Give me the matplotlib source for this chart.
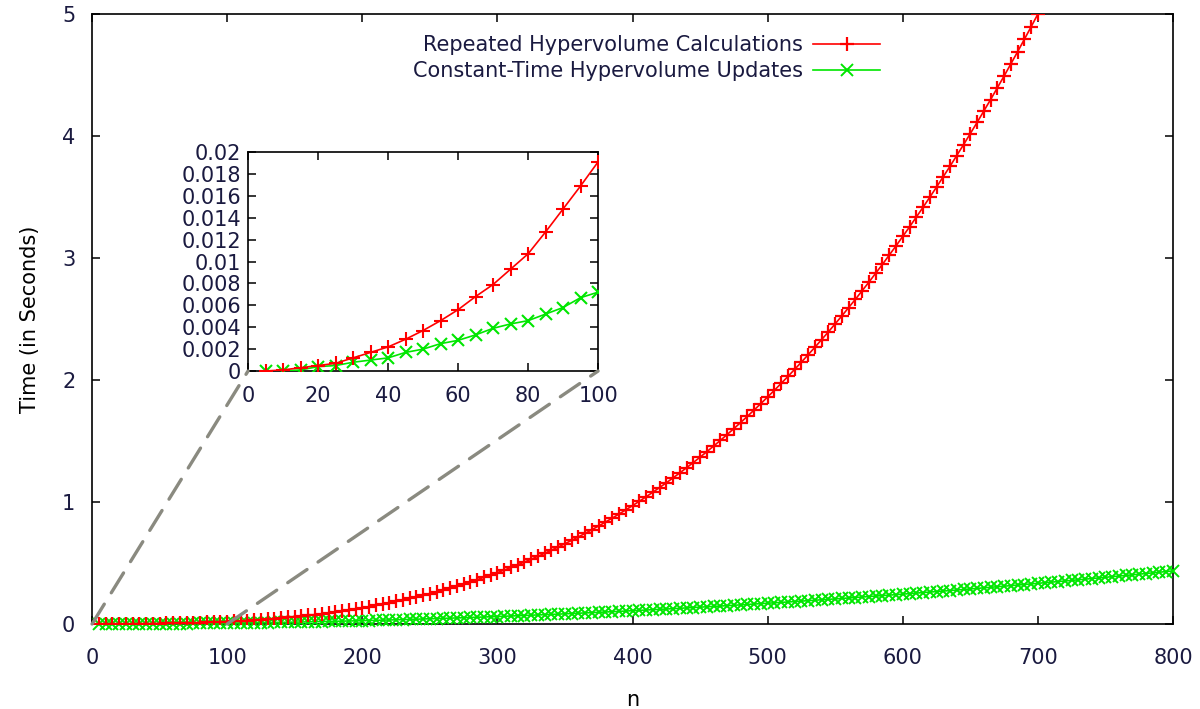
import matplotlib
matplotlib.use("Agg")
import matplotlib.pyplot as plt
from matplotlib.patches import ConnectionPatch
from matplotlib.ticker import MultipleLocator, FuncFormatter

# problem size n (step 5) and timings in seconds
n_red = list(range(5, 705, 5))
n_green = list(range(5, 805, 5))

red_times = [
    0.0000, 0.0001, 0.0003, 0.0005, 0.0007, 0.0012, 0.0017, 0.0022, 0.0029, 0.0037,
    0.0046, 0.0056, 0.0068, 0.0079, 0.0093, 0.0107, 0.0127, 0.0148, 0.0169, 0.0191,
    0.0219, 0.0249, 0.0281, 0.0316, 0.0354, 0.0394, 0.0438, 0.0485, 0.0534, 0.0587,
    0.0644, 0.0704, 0.0767, 0.0834, 0.0905, 0.0980, 0.1059, 0.1142, 0.1229, 0.1320,
    0.1416, 0.1516, 0.1621, 0.1731, 0.1846, 0.1965, 0.2090, 0.2219, 0.2354, 0.2494,
    0.2640, 0.2791, 0.2948, 0.3111, 0.3279, 0.3454, 0.3634, 0.3821, 0.4014, 0.4213,
    0.4419, 0.4632, 0.4851, 0.5077, 0.5309, 0.5549, 0.5796, 0.6050, 0.6312, 0.6580,
    0.6857, 0.7141, 0.7432, 0.7732, 0.8039, 0.8355, 0.8679, 0.9010, 0.9351, 0.9699,
    1.0057, 1.0422, 1.0797, 1.1181, 1.1573, 1.1975, 1.2385, 1.2805, 1.3235, 1.3674,
    1.4122, 1.4580, 1.5048, 1.5526, 1.6014, 1.6512, 1.7020, 1.7539, 1.8068, 1.8607,
    1.9157, 1.9718, 2.0289, 2.0872, 2.1466, 2.2070, 2.2686, 2.3314, 2.3952, 2.4603,
    2.5265, 2.5939, 2.6624, 2.7322, 2.8031, 2.8753, 2.9487, 3.0234, 3.0993, 3.1765,
    3.2549, 3.3346, 3.4156, 3.4979, 3.5815, 3.6664, 3.7527, 3.8403, 3.9293, 4.0196,
    4.1113, 4.2044, 4.2988, 4.3947, 4.4920, 4.5907, 4.6909, 4.7925, 4.8955, 5.0000,
]

green_times = [
    0.0000, 0.0000, 0.0001, 0.0004, 0.0005, 0.0008, 0.0010, 0.0012, 0.0017, 0.0020,
    0.0025, 0.0028, 0.0033, 0.0039, 0.0043, 0.0046, 0.0052, 0.0058, 0.0067, 0.0072,
    0.0075, 0.0082, 0.0090, 0.0098, 0.0106, 0.0115, 0.0124, 0.0133, 0.0143, 0.0153,
    0.0163, 0.0174, 0.0185, 0.0197, 0.0208, 0.0220, 0.0233, 0.0245, 0.0259, 0.0272,
    0.0286, 0.0300, 0.0314, 0.0329, 0.0344, 0.0360, 0.0376, 0.0392, 0.0408, 0.0425,
    0.0442, 0.0460, 0.0478, 0.0496, 0.0514, 0.0533, 0.0552, 0.0572, 0.0592, 0.0612,
    0.0633, 0.0653, 0.0675, 0.0696, 0.0718, 0.0741, 0.0763, 0.0786, 0.0809, 0.0833,
    0.0857, 0.0881, 0.0906, 0.0931, 0.0956, 0.0982, 0.1008, 0.1034, 0.1061, 0.1088,
    0.1115, 0.1143, 0.1171, 0.1200, 0.1228, 0.1257, 0.1287, 0.1316, 0.1347, 0.1377,
    0.1408, 0.1439, 0.1470, 0.1502, 0.1534, 0.1567, 0.1600, 0.1633, 0.1666, 0.1700,
    0.1734, 0.1769, 0.1804, 0.1839, 0.1874, 0.1910, 0.1946, 0.1983, 0.2020, 0.2057,
    0.2095, 0.2132, 0.2171, 0.2209, 0.2248, 0.2288, 0.2327, 0.2367, 0.2407, 0.2448,
    0.2489, 0.2530, 0.2572, 0.2614, 0.2656, 0.2699, 0.2742, 0.2785, 0.2829, 0.2873,
    0.2917, 0.2962, 0.3007, 0.3053, 0.3098, 0.3144, 0.3191, 0.3237, 0.3285, 0.3332,
    0.3380, 0.3428, 0.3476, 0.3525, 0.3574, 0.3624, 0.3674, 0.3724, 0.3774, 0.3825,
    0.3876, 0.3928, 0.3980, 0.4032, 0.4084, 0.4137, 0.4190, 0.4244, 0.4298, 0.4352,
]

red_label = "Repeated Hypervolume Calculations"
green_label = "Constant-Time Hypervolume Updates"

RED = "#ff0000"
GREEN = "#00e600"
FS = 15

plt.rcParams['font.family'] = ['DejaVu Sans']
plt.rcParams['text.color'] = '#1a1a40'
plt.rcParams['xtick.color'] = 'black'
plt.rcParams['ytick.color'] = 'black'
plt.rcParams['xtick.labelcolor'] = '#1a1a40'
plt.rcParams['ytick.labelcolor'] = '#1a1a40'


def style_axes(a, xpad, ypad):
    for s in a.spines.values():
        s.set_linewidth(1.2)
    a.tick_params(direction='in', which='both', top=True, right=True,
                  length=6, width=1.1, labelsize=FS)
    a.tick_params(axis='x', pad=xpad)
    a.tick_params(axis='y', pad=ypad)


fig = plt.figure(figsize=(12, 7.09), dpi=100)
ax = fig.add_axes([0.0767, 0.1199, 0.9008, 0.8603])

ax.plot(n_red, red_times, color=RED, lw=1.2, marker='+', ms=9.5, mew=1.6,
        label=red_label, zorder=4)
ax.plot(n_green, green_times, color=GREEN, lw=1.2, marker='x', ms=8, mew=1.4,
        label=green_label, zorder=3, clip_on=False)
ax.set_xlim(0, 800)
ax.set_ylim(0, 5)
ax.xaxis.set_major_locator(MultipleLocator(100))
ax.yaxis.set_major_locator(MultipleLocator(1))
style_axes(ax, 17, 12)
ax.set_xlabel("n", fontsize=FS, labelpad=16)
ax.set_ylabel("Time (in Seconds)", fontsize=FS, labelpad=16)

leg = ax.legend(loc='upper right', bbox_to_anchor=(0.749, 0.977),
                bbox_transform=fig.transFigure, frameon=False, markerfirst=False,
                fontsize=FS, handlelength=3.2, handletextpad=0.5,
                labelspacing=0.3)
for t in leg.get_texts():
    t.set_ha('right')

# inset zoomed on n <= 100
axin = fig.add_axes([0.2067, 0.4767, 0.2917, 0.3089])
axin.plot(n_red, red_times, color=RED, lw=1.2, marker='+', ms=10, mew=1.5, zorder=4)
axin.plot(n_green, green_times, color=GREEN, lw=1.2, marker='x', ms=9, mew=1.5, zorder=3)
axin.set_xlim(0, 100)
axin.set_ylim(0, 0.02)
axin.xaxis.set_major_locator(MultipleLocator(20))
axin.yaxis.set_major_locator(MultipleLocator(0.002))
axin.yaxis.set_major_formatter(FuncFormatter(lambda v, p: f"{round(v, 4):g}"))
style_axes(axin, 11, 5)

for xa, xb in [(0, 0), (100, 100)]:
    con = ConnectionPatch(xyA=(xa, 0), coordsA=ax.transData,
                          xyB=(xb, 0), coordsB=axin.transData,
                          color='#8a8a80', lw=2.4, linestyle=(0, (7, 4)), zorder=1)
    fig.add_artist(con)

fig.savefig("out.png", dpi=100)
